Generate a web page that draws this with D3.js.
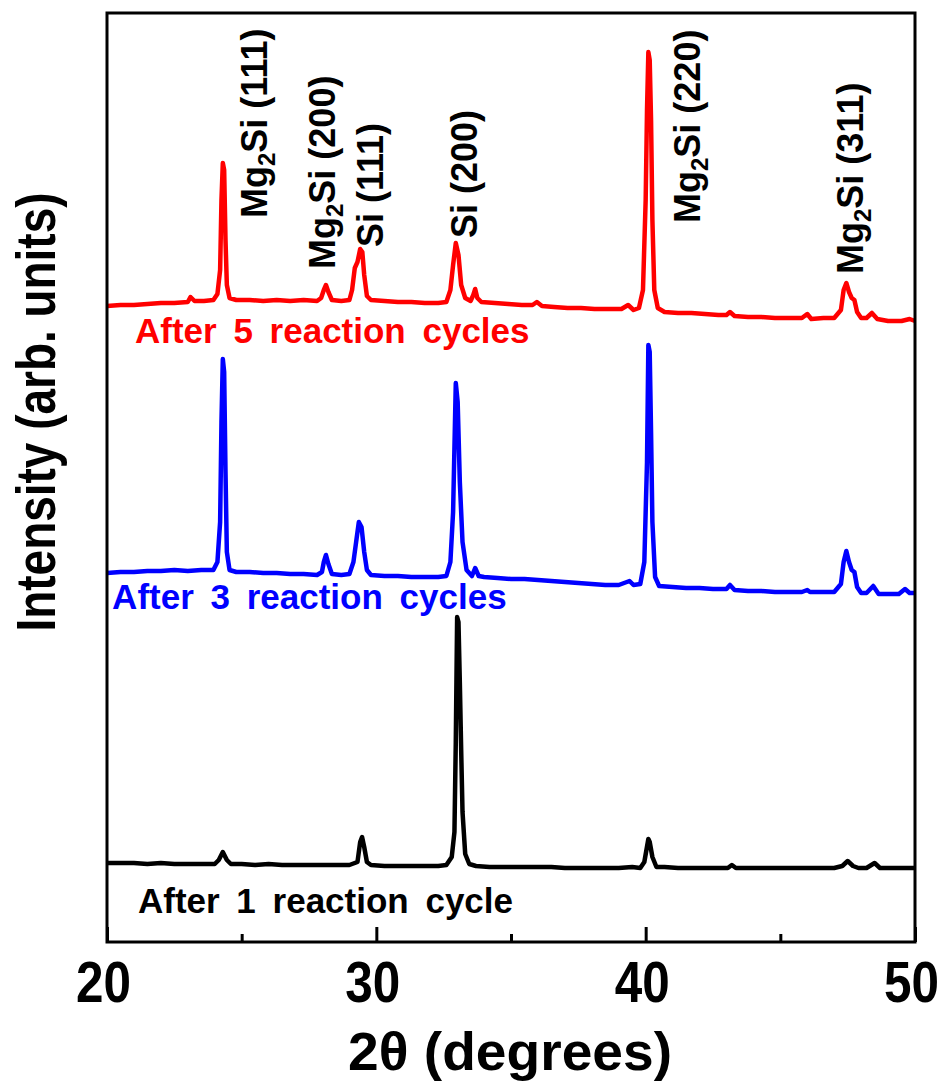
<!DOCTYPE html>
<html>
<head>
<meta charset="utf-8">
<script src="https://cdn.jsdelivr.net/npm/d3@7"></script>
<style>
    body { margin: 0; background: #fff; }
    text { font-family: "Liberation Sans", Arial, sans-serif; font-weight: bold; }
</style>
</head>
<body>
<svg width="946" height="1082"></svg>
<script>

// 2theta (deg) / intensity pairs, already stacked (arb. units)
var redTheta = [20.0, 20.5, 21.0, 21.5, 22.0, 22.5, 23.0, 23.1, 23.25, 23.6, 23.95, 24.1, 24.2, 24.25, 24.3, 24.35, 24.4, 24.45, 24.55, 24.8,
    25.3, 25.8, 26.3, 26.8, 27.3, 27.8, 27.95, 28.05, 28.13, 28.22, 28.35, 28.7, 29.0, 29.1, 29.2, 29.3, 29.4, 29.48, 29.55, 29.65, 29.8,
    30.3, 30.8, 31.3, 31.8, 32.3, 32.6, 32.75, 32.85, 32.95, 33.05, 33.15, 33.3, 33.5, 33.6, 33.67, 33.75, 33.9, 34.4, 34.9, 35.4, 35.8, 35.96, 36.15,
    36.6, 37.1, 37.6, 38.1, 38.6, 39.1, 39.35, 39.55, 39.75, 39.9, 40.0, 40.05, 40.1, 40.15, 40.2, 40.25, 40.32, 40.45, 40.7,
    41.2, 41.7, 42.2, 42.7, 43.0, 43.13, 43.3, 43.8, 44.3, 44.8, 45.3, 45.8, 46.0, 46.15, 46.6, 47.0, 47.25, 47.35, 47.45, 47.55, 47.65, 47.75, 47.85,
    48.0, 48.2, 48.4, 48.6, 49.0, 49.5, 49.8, 50.0];
var redCounts = [636, 637, 637, 638, 639, 639, 640, 645, 641, 641, 642, 648, 672, 742, 779, 772, 702, 657, 644, 642,
    642, 641, 642, 641, 642, 641, 644, 652, 657, 650, 642, 641, 642, 652, 674, 680, 693, 690, 667, 646, 642,
    641, 640, 640, 639, 639, 640, 652, 677, 699, 687, 657, 644, 641, 647, 653, 644, 640, 639, 638, 637, 637, 640, 636,
    635, 634, 634, 633, 633, 633, 637, 632, 634, 652, 742, 832, 890, 882, 822, 722, 652, 634, 630,
    629, 629, 628, 627, 627, 630, 626, 625, 625, 624, 624, 624, 628, 623, 624, 624, 632, 652, 659, 650, 644, 642, 630,
    624, 624, 629, 623, 621, 621, 623, 621];

var blueTheta = [20.0, 20.5, 21.0, 21.5, 22.0, 22.5, 23.0, 23.5, 23.95, 24.1, 24.2, 24.25, 24.3, 24.35, 24.4, 24.45, 24.55, 24.8,
    25.3, 25.8, 26.3, 26.8, 27.3, 27.8, 27.98, 28.05, 28.13, 28.22, 28.35, 28.7, 29.0, 29.15, 29.25, 29.35, 29.45, 29.55, 29.65, 29.8,
    30.3, 30.8, 31.3, 31.8, 32.3, 32.6, 32.75, 32.85, 32.95, 33.02, 33.1, 33.2, 33.35, 33.55, 33.67, 33.8, 34.0, 34.5, 35.0, 35.5, 36.0,
    36.5, 37.0, 37.5, 38.0, 38.5, 39.0, 39.4, 39.55, 39.8, 39.95, 40.05, 40.1, 40.15, 40.2, 40.25, 40.35, 40.5,
    41.0, 41.5, 42.0, 42.5, 43.0, 43.13, 43.3, 43.8, 44.3, 44.8, 45.3, 45.8, 46.0, 46.1, 46.6, 47.0, 47.25, 47.35, 47.45, 47.55, 47.65, 47.75, 47.85,
    48.0, 48.2, 48.45, 48.65, 49.0, 49.4, 49.63, 49.8, 50.0];
var blueCounts = [369, 370, 370, 371, 371, 372, 371, 372, 372, 380, 420, 520, 583, 570, 470, 390, 372, 370,
    370, 369, 369, 368, 368, 367, 370, 380, 387, 378, 368, 367, 368, 380, 400, 420, 415, 390, 372, 367,
    366, 366, 365, 365, 365, 366, 380, 430, 559, 540, 460, 400, 372, 366, 374, 366, 365, 364, 363, 363, 362,
    361, 360, 359, 358, 357, 357, 361, 357, 358, 380, 480, 597, 590, 510, 420, 365, 356,
    355, 354, 354, 353, 353, 357, 352, 351, 351, 350, 350, 350, 352, 350, 350, 350, 358, 380, 391, 380, 372, 370, 355,
    349, 349, 356, 348, 348, 348, 353, 349, 349];

var blackTheta = [20.0, 20.5, 21.0, 21.5, 22.0, 22.5, 23.0, 23.5, 24.0, 24.15, 24.3, 24.45, 24.6,
    25.0, 25.5, 26.0, 26.5, 27.0, 27.5, 28.0, 28.5, 29.0, 29.3, 29.4, 29.47, 29.55, 29.65, 29.8,
    30.3, 30.8, 31.3, 31.8, 32.3, 32.6, 32.8, 32.9, 32.95, 33.0, 33.05, 33.1, 33.15, 33.2, 33.3, 33.45, 33.7,
    34.2, 35.0, 35.5, 36.0, 36.5, 37.0, 37.5, 38.0, 38.5, 39.0, 39.5, 39.8, 39.95, 40.1, 40.15, 40.25, 40.4, 40.7,
    41.2, 41.7, 42.2, 42.7, 43.05, 43.2, 43.35, 43.8, 44.5, 45.0, 45.5, 46.0, 46.5, 47.0, 47.3, 47.5, 47.7, 47.9,
    48.2, 48.5, 48.7, 49.0, 49.5, 50.0];
var blackCounts = [79, 79, 79, 78, 79, 78, 78, 78, 78, 82, 90, 82, 78,
    78, 77, 78, 77, 77, 77, 77, 77, 77, 80, 100, 105, 95, 80, 77,
    76, 76, 76, 76, 76, 77, 85, 110, 200, 325, 320, 260, 192, 130, 88, 78, 76,
    75, 75, 75, 75, 75, 74, 74, 74, 74, 74, 75, 74, 80, 103, 100, 85, 75, 75,
    74, 74, 74, 74, 74, 77, 74, 74, 74, 74, 74, 74, 74, 74, 76, 81, 76, 74,
    74, 79, 74, 74, 74, 74];

var seriesNames = ["After 5 reaction cycles", "After 3 reaction cycles", "After 1 reaction cycle"];
var seriesColors = ["#ff0000", "#0000ff", "#000000"];
// label anchor (deg, arb. units)
var seriesLabelX = [21.04, 20.19, 21.15];
var seriesLabelY = [599, 333, 29];

// peak assignments: prefix, subscript, rest
var peakPre = ["Mg", "Mg", "", "", "Mg", "Mg"];
var peakSub = ["2", "2", "", "", "2", "2"];
var peakRest = ["Si (111)", "Si (200)", "Si (111)", "Si (200)", "Si (220)", "Si (311)"];
var peakX = [25.94, 28.47, 30.25, 33.74, 42.02, 48.07];
var peakY = [724, 673, 695, 704, 719, 668];

var xTicks = [20, 30, 40, 50];
var xMinor = [25, 35, 45];

var svg = d3.select("svg"),
    margin = {top: 13, left: 107, right: 31, bottom: 140},
    width = +svg.attr("width") - margin.left - margin.right,
    height = +svg.attr("height") - margin.top - margin.bottom;

var x = d3.scaleLinear().domain([20, 50]).range([margin.left, margin.left + width]);
var y = d3.scaleLinear().domain([0, 929]).range([margin.top + height, margin.top]);

var series = [
    {theta: redTheta, counts: redCounts},
    {theta: blueTheta, counts: blueCounts},
    {theta: blackTheta, counts: blackCounts}
];

var line = d3.line()
    .x(function (d) { return x(d[0]); })
    .y(function (d) { return y(d[1]); });

// patterns
svg.append("g")
    .selectAll("path")
    .data(series)
    .enter().append("path")
    .attr("d", function (d) {
        return line(d3.zip(d.theta, d.counts));
    })
    .attr("fill", "none")
    .attr("stroke", function (d, i) { return seriesColors[i]; })
    .attr("stroke-width", 4.5)
    .attr("stroke-linejoin", "round");

// frame
svg.append("rect")
    .attr("x", margin.left)
    .attr("y", margin.top)
    .attr("width", width)
    .attr("height", height)
    .attr("fill", "none")
    .attr("stroke", "#000")
    .attr("stroke-width", 3);

var xAxis = svg.append("g")
    .attr("transform", "translate(0," + (margin.top + height) + ")")
    .call(d3.axisBottom(x).tickValues(xTicks).tickSize(-15).tickPadding(20));

xAxis.select(".domain").remove();
xAxis.selectAll("line").attr("stroke-width", 3);
xAxis.selectAll("text")
    .attr("font-size", 57)
    .attr("font-family", "'Liberation Sans', Arial, sans-serif")
    .attr("font-weight", "bold")
    .attr("fill", "#000")
    .attr("dx", -4)
    .attr("textLength", 55)
    .attr("lengthAdjust", "spacingAndGlyphs");

var minorAxis = svg.append("g")
    .attr("transform", "translate(0," + (margin.top + height) + ")")
    .call(d3.axisBottom(x).tickValues(xMinor).tickSize(-8).tickFormat(""));
minorAxis.select(".domain").remove();
minorAxis.selectAll("line").attr("stroke-width", 3);

// axis titles
svg.append("text")
    .attr("x", 348)
    .attr("y", 1070)
    .attr("font-size", 53)
    .attr("textLength", 324)
    .attr("lengthAdjust", "spacingAndGlyphs")
    .text("2θ (degrees)");

svg.append("text")
    .attr("transform", "translate(55,412) rotate(-90)")
    .attr("text-anchor", "middle")
    .attr("font-size", 56)
    .attr("textLength", 439)
    .attr("lengthAdjust", "spacingAndGlyphs")
    .text("Intensity (arb.  units)");

// series labels
svg.append("g")
    .selectAll("text")
    .data(seriesNames)
    .enter().append("text")
    .attr("x", function (d, i) { return x(seriesLabelX[i]); })
    .attr("y", function (d, i) { return y(seriesLabelY[i]); })
    .attr("font-size", 35)
    .attr("word-spacing", 7)
    .attr("fill", function (d, i) { return seriesColors[i]; })
    .text(function (d) { return d; });

// peak labels, rotated
var peaks = svg.append("g")
    .selectAll("text")
    .data(peakRest)
    .enter().append("text")
    .attr("transform", function (d, i) {
        return "translate(" + x(peakX[i]) + "," + y(peakY[i]) + ") rotate(-90)";
    })
    .attr("font-size", 36);

peaks.each(function (d, i) {
    var t = d3.select(this);
    if (peakPre[i]) {
        t.append("tspan").text(peakPre[i]);
        t.append("tspan").attr("font-size", 24).attr("dy", 8).text(peakSub[i]);
        t.append("tspan").attr("dy", -8).text(d);
    } else {
        t.append("tspan").text(d);
    }
});

</script>
</body>
</html>
